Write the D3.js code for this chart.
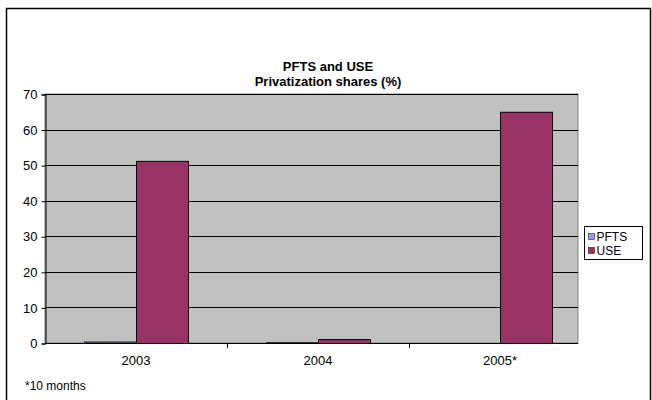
<!DOCTYPE html>
<html><head><meta charset="utf-8">
<script src="https://cdn.jsdelivr.net/npm/d3@7"></script>
<style>body{margin:0;background:#fff}svg{display:block;font-family:"Liberation Sans",Arial,sans-serif}</style>
</head><body>
<svg id="c" width="652" height="400"></svg>
<script>
const categories = ["2003", "2004", "2005*"];
const seriesNames = ["PFTS", "USE"];
const pftsValues = [0.4, 0.2, 0];
const useValues = [51.2, 1.1, 65];
const yTicks = [0, 10, 20, 30, 40, 50, 60, 70];
const colors = ["#9999FF", "#993366"];
const titleLines = ["PFTS and USE", "Privatization shares (%)"];
const note = "*10 months";

const svg = d3.select("#c");
// outer chart border
svg.append("rect").attr("x", 6.5).attr("y", 8.5).attr("width", 644).attr("height", 400)
  .attr("fill", "#fff").attr("stroke", "#000").attr("stroke-width", 1.5);

const plotL = 45, plotR = 578, plotT = 94, plotB = 343;
const x = d3.scaleBand().domain(categories).range([plotL, plotL + 182 * 3]);
const x1 = d3.scaleBand().domain(seriesNames).range([39, 143]);
const y = d3.scaleLinear().domain([0, 70]).range([plotB, plotT]);

svg.append("rect").attr("x", plotL).attr("y", plotT).attr("width", plotR - plotL).attr("height", plotB - plotT)
  .attr("fill", "#C0C0C0").attr("stroke", "#808080").attr("stroke-width", 1);

// gridlines
svg.append("g").selectAll("line").data(yTicks.filter(d => d > 0)).join("line")
  .attr("x1", plotL).attr("x2", plotR)
  .attr("y1", d => Math.round(y(d)) + 0.5).attr("y2", d => Math.round(y(d)) + 0.5)
  .attr("stroke", "#000").attr("stroke-width", 1);

// bars
const data = [];
categories.forEach((c, i) => {
  data.push({c, s: "PFTS", v: pftsValues[i], col: colors[0]});
  data.push({c, s: "USE", v: useValues[i], col: colors[1]});
});
svg.append("g").selectAll("rect").data(data.filter(d => d.v > 0)).join("rect")
  .attr("x", d => x(d.c) + x1(d.s) + 0.5)
  .attr("y", d => y(d.v) + 0.5)
  .attr("width", x1.bandwidth())
  .attr("height", d => Math.max(0.5, y(0) - y(d.v)))
  .attr("fill", d => d.col).attr("stroke", "#000").attr("stroke-width", 1);

// y axis
const yAxis = d3.axisLeft(y).tickValues(yTicks).tickSize(4).tickPadding(4);
const gy = svg.append("g").attr("transform", `translate(${plotL + 0.5},0.5)`).call(yAxis);
gy.select(".domain").attr("stroke", "#000");
gy.selectAll("text").attr("font-size", 13).attr("fill", "#000");

// x axis
const xAxis = d3.axisBottom(x).tickSize(0).tickPadding(12);
const gx = svg.append("g").attr("transform", `translate(0,${plotB + 0.5})`).call(xAxis);
gx.select(".domain").remove();
gx.selectAll("text").attr("font-size", 13).attr("fill", "#000");
svg.append("line").attr("x1", plotL).attr("x2", plotR).attr("y1", plotB + 0.5).attr("y2", plotB + 0.5).attr("stroke", "#000");
svg.append("g").selectAll("line").data(categories.slice(1)).join("line")
  .attr("x1", d => Math.round(x(d)) + 0.5).attr("x2", d => Math.round(x(d)) + 0.5)
  .attr("y1", plotB).attr("y2", plotB + 5).attr("stroke", "#000");

// title
svg.append("g").selectAll("text").data(titleLines).join("text")
  .attr("x", 328).attr("y", (d, i) => 71 + i * 15)
  .attr("text-anchor", "middle").attr("font-size", 13).attr("font-weight", "bold").text(d => d);

// note
svg.append("text").attr("x", 25).attr("y", 390).attr("font-size", 12).text(note);

// legend
const lg = svg.append("g").attr("transform", "translate(584.5,226.5)");
lg.append("rect").attr("width", 58).attr("height", 33).attr("fill", "#fff").attr("stroke", "#000");
seriesNames.forEach((s, i) => {
  lg.append("rect").attr("x", 4).attr("y", 7 + i * 14).attr("width", 6).attr("height", 6)
    .attr("fill", colors[i]).attr("stroke", "#000").attr("stroke-width", 0.5);
  lg.append("text").attr("x", 12).attr("y", 14 + i * 14).attr("font-size", 12).text(s);
});
</script>
</body></html>
